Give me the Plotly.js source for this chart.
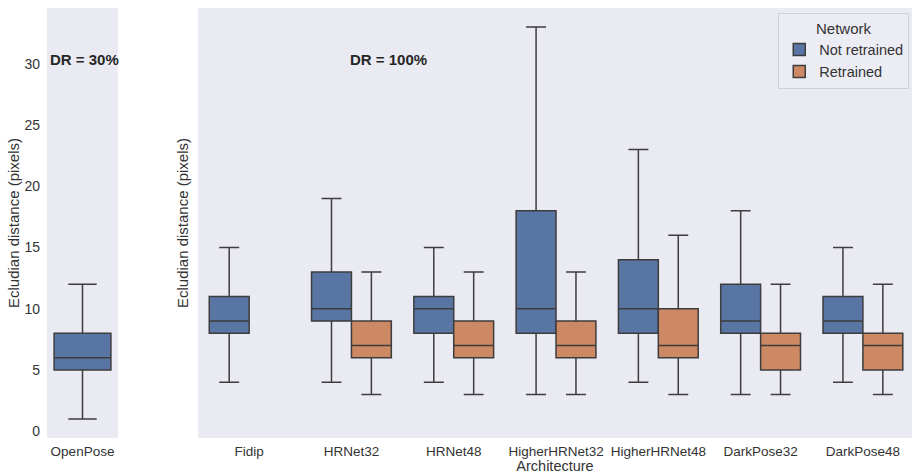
<!DOCTYPE html>
<html>
<head>
<meta charset="utf-8">
<script src="https://cdn.plot.ly/plotly-3.0.1.min.js"></script>
<style>html,body{margin:0;padding:0;background:#fff}#chart{width:912px;height:474px}</style>
</head>
<body>
<div id="chart"></div>
<script>
// Data
const leftCategories = ["OpenPose"];
const leftLow = [1], leftQ1 = [5], leftMed = [6], leftQ3 = [8], leftHigh = [12];

const categories = ["Fidip", "HRNet32", "HRNet48", "HigherHRNet32", "HigherHRNet48", "DarkPose32", "DarkPose48"];
// Not retrained
const nrLow  = [4, 4, 4, 3, 4, 3, 4];
const nrQ1   = [8, 9, 8, 8, 8, 8, 8];
const nrMed  = [9, 10, 10, 10, 10, 9, 9];
const nrQ3   = [11, 13, 11, 18, 14, 12, 11];
const nrHigh = [15, 19, 15, 33, 23, 18, 15];
// Retrained (no Fidip)
const rCategories = ["HRNet32", "HRNet48", "HigherHRNet32", "HigherHRNet48", "DarkPose32", "DarkPose48"];
const rLow  = [3, 3, 3, 3, 3, 3];
const rQ1   = [6, 6, 6, 6, 5, 5];
const rMed  = [7, 7, 7, 7, 7, 7];
const rQ3   = [9, 9, 9, 10, 8, 8];
const rHigh = [13, 13, 13, 16, 12, 12];

const yTicks = [0, 5, 10, 15, 20, 25, 30];

const blue = "#5975a4", orange = "#cc8963", edge = "#3d3d3d";
const lineStyle = {color: edge, width: 1.5};

const traces = [
  {type: "box", name: "Not retrained", x: leftCategories, q1: leftQ1, median: leftMed, q3: leftQ3,
   lowerfence: leftLow, upperfence: leftHigh, fillcolor: blue, line: lineStyle, whiskerwidth: 0.5,
   width: 0.8, xaxis: "x", yaxis: "y", showlegend: false, hoverinfo: "skip", boxpoints: false},
  {type: "box", name: "Not retrained", x: categories, q1: nrQ1, median: nrMed, q3: nrQ3,
   lowerfence: nrLow, upperfence: nrHigh, fillcolor: blue, line: lineStyle, whiskerwidth: 0.5,
   xaxis: "x2", yaxis: "y2", boxpoints: false, offsetgroup: "nr"},
  {type: "box", name: "Retrained", x: rCategories, q1: rQ1, median: rMed, q3: rQ3,
   lowerfence: rLow, upperfence: rHigh, fillcolor: orange, line: lineStyle, whiskerwidth: 0.5,
   xaxis: "x2", yaxis: "y2", boxpoints: false, offsetgroup: "r"}
];

const fam = "Liberation Sans, Arial, sans-serif";
const font = {family: fam, size: 14, color: "#333"};
const xFont = {family: fam, size: 13.5, color: "#333"};
const titleFont = {family: fam, size: 15, color: "#333"};
const yRange = [-0.55, 34.55];

const layout = {
  width: 912, height: 474,
  margin: {l: 0, r: 0, t: 8, b: 36},
  paper_bgcolor: "#fff",
  plot_bgcolor: "#eaeaf2",
  font: font,
  boxmode: "group",
  boxgap: 0.22,
  boxgroupgap: 0,
  xaxis: {domain: [47/912, 118/912], type: "category", range: [-0.5, 0.5],
          showgrid: false, zeroline: false, showline: false, ticks: "", tickfont: xFont, anchor: "y",
          ticklabelstandoff: 3},
  yaxis: {domain: [0, 1], range: yRange, tickvals: yTicks, ticktext: yTicks.map(String),
          showgrid: false, zeroline: false, showline: false, ticks: "", tickfont: font, anchor: "x",
          ticklabelstandoff: 6,
          title: {text: "Ecludian distance (pixels)", font: titleFont, standoff: 1}},
  xaxis2: {domain: [198/912, 1], type: "category", categoryarray: categories, categoryorder: "array",
           range: [-0.5, 6.48], showgrid: false, zeroline: false, showline: false, ticks: "", tickfont: xFont, anchor: "y2",
           ticklabelstandoff: 3,
           title: {text: "Architecture", font: {family: fam, size: 14.5, color: "#333"}, standoff: 3}},
  yaxis2: {domain: [0, 1], range: yRange, anchor: "x2", showticklabels: false, showgrid: false,
           zeroline: false, showline: false, ticks: "",
           title: {text: "Ecludian distance (pixels)", font: titleFont, standoff: 4}},
  legend: {x: 0.997, y: 0.988, xanchor: "right", yanchor: "top",
           bgcolor: "rgba(236,236,244,0.9)", bordercolor: "#d0d0d8", borderwidth: 1,
           title: {text: "Network", side: "top center", font: titleFont},
           font: {family: fam, size: 14.5, color: "#333"}, tracegroupgap: 0},
  annotations: [
    {text: "<b>DR = 30%</b>", xref: "paper", yref: "paper", x: 84/912, y: (438-59)/430, showarrow: false,
     font: {family: fam, size: 15, color: "#262626"}, xanchor: "center", yanchor: "middle"},
    {text: "<b>DR = 100%</b>", xref: "paper", yref: "paper", x: 388/912, y: (438-59)/430, showarrow: false,
     font: {family: fam, size: 15, color: "#262626"}, xanchor: "center", yanchor: "middle"}
  ]
};

Plotly.newPlot("chart", traces, layout, {displayModeBar: false, staticPlot: true});
</script>
</body>
</html>
